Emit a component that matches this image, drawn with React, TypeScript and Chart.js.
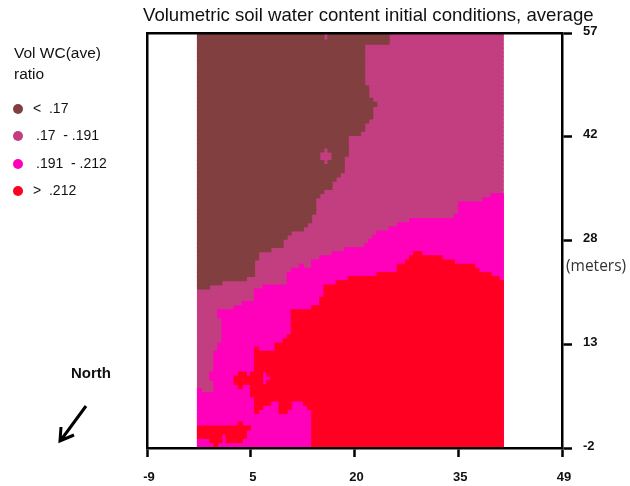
import { useEffect, useRef } from "react";
import { Chart, registerables } from "chart.js";

Chart.register(...registerables);

const TITLE = "Volumetric soil water content initial conditions, average";
const LEGEND_TITLE = ["Vol WC(ave)", "ratio"];
const CLASS_NAMES = ["< .17", ".17 - .191", ".191 - .212", "> .212"];
const CLASS_COLORS = ["#823F3F", "#C23E80", "#FF00BB", "#FF0022"];

const X_TICKS = [-9, 5.5, 20, 34.5, 49];
const X_LABELS = ["-9", "5", "20", "35", "49"];
const Y_TICKS = [-2, 12.75, 27.5, 42.25, 57];
const Y_LABELS = ["-2", "13", "28", "42", "57"];

// grid of the model: column/row spacing in metres
const GRID_X0 = -1.95;
const GRID_DX = 0.57;
const GRID_Y0 = 57;
const GRID_DY = 0.59;

// runs of grid cells: [first row, last row, first column, end column]
type Run = [number, number, number, number];

const BROWN: Run[] = [
  [0, 1, 0, 31], [0, 1, 32, 47], [2, 2, 0, 47], [3, 12, 0, 41], [13, 15, 0, 42], [16, 16, 0, 43],
  [17, 17, 0, 44], [18, 20, 0, 43], [21, 21, 0, 42], [22, 23, 0, 41], [24, 24, 0, 40], [25, 27, 0, 37],
  [28, 28, 0, 31], [28, 28, 32, 37], [29, 29, 0, 30], [29, 29, 33, 37], [30, 30, 0, 30], [30, 30, 33, 36],
  [31, 31, 0, 31], [31, 31, 32, 36], [32, 33, 0, 36], [34, 34, 0, 35], [35, 35, 0, 34], [36, 37, 0, 33],
  [38, 38, 0, 31], [39, 39, 0, 30], [40, 43, 0, 29], [44, 45, 0, 28], [46, 46, 0, 27], [47, 47, 0, 26],
  [48, 48, 0, 23], [49, 49, 0, 22], [50, 51, 0, 21], [52, 52, 0, 18], [53, 54, 0, 15], [55, 58, 0, 14],
  [59, 59, 0, 12], [60, 60, 0, 6], [61, 61, 0, 3],
];

const PINK: Run[] = [[0, 100, 0, 75]];

const MAGENTA: Run[] = [
  [39, 39, 72, 75], [40, 40, 70, 75], [41, 43, 64, 75], [44, 44, 63, 75], [45, 45, 52, 75], [46, 46, 49, 75],
  [47, 47, 47, 75], [48, 48, 44, 75], [49, 49, 43, 75], [50, 50, 42, 75], [51, 51, 41, 75], [52, 52, 36, 75],
  [53, 53, 33, 75], [54, 54, 30, 75], [55, 55, 28, 75], [56, 56, 25, 26], [56, 56, 28, 75], [57, 57, 23, 75],
  [58, 60, 22, 75], [61, 61, 16, 75], [62, 64, 14, 75], [65, 65, 11, 75], [66, 66, 9, 75], [67, 68, 5, 75],
  [69, 74, 6, 75], [75, 76, 5, 75], [77, 81, 4, 75], [82, 83, 3, 75], [84, 85, 4, 75], [86, 86, 0, 1],
  [86, 86, 4, 75], [87, 100, 0, 75],
];

const RED: Run[] = [
  [53, 53, 53, 55], [54, 54, 52, 60], [55, 55, 51, 63], [56, 56, 49, 68], [57, 57, 49, 69], [58, 58, 44, 72],
  [59, 59, 37, 74], [60, 60, 34, 75], [61, 63, 31, 75], [64, 65, 30, 75], [66, 66, 28, 75], [67, 72, 23, 75],
  [73, 73, 22, 75], [74, 74, 21, 75], [75, 75, 19, 75], [76, 76, 14, 15], [76, 76, 19, 75], [77, 81, 14, 75],
  [82, 82, 10, 12], [82, 82, 13, 16], [82, 82, 17, 75], [83, 83, 9, 16], [83, 83, 18, 75], [84, 84, 9, 16],
  [84, 84, 17, 75], [85, 85, 10, 11], [85, 87, 13, 75], [88, 88, 14, 75], [89, 89, 14, 18], [89, 89, 20, 23],
  [89, 89, 26, 75], [90, 90, 14, 16], [90, 90, 20, 23], [90, 90, 27, 75], [91, 91, 14, 15], [91, 91, 20, 22],
  [91, 100, 28, 75], [94, 94, 10, 11], [95, 95, 0, 13], [96, 96, 0, 12], [97, 97, 0, 6], [97, 97, 7, 12],
  [98, 98, 3, 6], [98, 98, 7, 11], [99, 99, 4, 5],
];

const toBars = (runs: Run[]) => {
  const bars: { x: [number, number]; y: number }[] = [];
  for (const [r0, r1, c0, c1] of runs) {
    for (let r = r0; r <= r1; r++) {
      bars.push({
        x: [GRID_X0 + c0 * GRID_DX, GRID_X0 + c1 * GRID_DX],
        y: GRID_Y0 - (r + 0.2) * GRID_DY,
      });
    }
  }
  return bars;
};

const FONT = "'Liberation Sans', Arial, sans-serif";

const annotations = {
  id: "annotations",
  afterDraw(chart: Chart) {
    const ctx = chart.ctx;
    ctx.save();
    ctx.textBaseline = "middle";
    ctx.textAlign = "left";
    ctx.fillStyle = "#111";
    ctx.font = `15.5px ${FONT}`;
    ctx.fillText(LEGEND_TITLE[0], 14, 54);
    ctx.fillText(LEGEND_TITLE[1], 14, 75);

    const rowY = [109, 136, 164, 191];
    const textX = [33, 36, 36, 33];
    CLASS_NAMES.forEach((name, i) => {
      ctx.fillStyle = CLASS_COLORS[i];
      ctx.beginPath();
      ctx.arc(18, rowY[i], 5, 0, Math.PI * 2);
      ctx.fill();
      ctx.fillStyle = "#111";
      ctx.font = `14px ${FONT}`;
      ctx.fillText(name.replace(" ", "  "), textX[i], rowY[i]);
    });

    ctx.font = `bold 15px ${FONT}`;
    ctx.fillText("North", 71, 374);

    ctx.font = `15.5px 'Open Sans', ${FONT}`;
    ctx.fillStyle = "#333";
    ctx.fillText("(meters)", 566, 267);

    ctx.strokeStyle = "#000";
    ctx.lineWidth = 3;
    ctx.beginPath();
    ctx.moveTo(86, 406);
    ctx.lineTo(61, 440);
    ctx.moveTo(61, 427);
    ctx.lineTo(60, 441);
    ctx.lineTo(74, 435);
    ctx.stroke();
    ctx.restore();
  },
};

export default function App() {
  const ref = useRef<HTMLCanvasElement>(null);

  useEffect(() => {
    document.body.style.margin = "0";
    const axisFont = { family: FONT, size: 13, weight: "bold" as const };
    const spine = { display: true, color: "#000", width: 2.5, z: 1 };
    const barStyle = { inflateAmount: 0.5, borderWidth: 0 };
    const chart = new Chart(ref.current!, {
      type: "bar",
      data: {
        datasets: [
          { label: CLASS_NAMES[3], data: toBars(RED), backgroundColor: CLASS_COLORS[3], ...barStyle },
          { label: CLASS_NAMES[2], data: toBars(MAGENTA), backgroundColor: CLASS_COLORS[2], ...barStyle },
          { label: CLASS_NAMES[0], data: toBars(BROWN), backgroundColor: CLASS_COLORS[0], ...barStyle },
          { label: CLASS_NAMES[1], data: toBars(PINK), backgroundColor: CLASS_COLORS[1], ...barStyle },
        ] as any,
      },
      options: {
        indexAxis: "y",
        responsive: false,
        animation: false,
        grouped: false,
        barPercentage: 1,
        categoryPercentage: 1,
        layout: { padding: { left: 143, top: 0, right: 0, bottom: 0 } },
        plugins: {
          legend: { display: false },
          tooltip: { enabled: false },
          title: {
            display: true,
            text: TITLE,
            align: "start",
            color: "#111",
            font: { family: FONT, size: 18.6, weight: "normal" },
            padding: { top: 5, bottom: 5.7 },
          },
        },
        scales: {
          x: {
            type: "linear",
            position: "bottom",
            min: -9,
            max: 49,
            afterBuildTicks: (a: any) => {
              a.ticks = X_TICKS.map((value) => ({ value }));
            },
            afterFit: (s: any) => {
              s.height = 38;
            },
            ticks: {
              autoSkip: false,
              maxRotation: 0,
              color: "#111",
              font: axisFont,
              padding: 13,
              labelOffset: 2,
              callback: (_v: any, i: number) => X_LABELS[i],
            },
            grid: { drawOnChartArea: false, drawTicks: true, tickLength: 9, tickWidth: 2.5, tickColor: "#000" },
            border: spine,
          },
          x2: {
            type: "linear",
            position: "top",
            min: -9,
            max: 49,
            ticks: { display: false },
            grid: { display: false },
            border: spine,
            afterFit: (s: any) => {
              s.height = 0;
            },
          },
          y: {
            type: "linear",
            position: "right",
            min: -2,
            max: 57,
            offset: false,
            afterBuildTicks: (a: any) => {
              a.ticks = Y_TICKS.map((value) => ({ value }));
            },
            afterFit: (s: any) => {
              s.width = 68;
            },
            ticks: {
              autoSkip: false,
              color: "#111",
              font: axisFont,
              padding: 11,
              labelOffset: -2,
              callback: (_v: any, i: number) => Y_LABELS[i],
            },
            grid: { offset: false, drawOnChartArea: false, drawTicks: true, tickLength: 10, tickWidth: 2.5, tickColor: "#000" },
            border: spine,
          },
          y2: {
            type: "linear",
            position: "left",
            min: -2,
            max: 57,
            offset: false,
            ticks: { display: false },
            grid: { display: false },
            border: spine,
            afterFit: (s: any) => {
              s.width = 4;
            },
          },
        },
      } as any,
      plugins: [annotations],
    });
    return () => chart.destroy();
  }, []);

  return (
    <div style={{ position: "absolute", left: 0, top: 0, width: 630, height: 486 }}>
      <canvas ref={ref} width={630} height={486} style={{ display: "block" }} />
    </div>
  );
}
